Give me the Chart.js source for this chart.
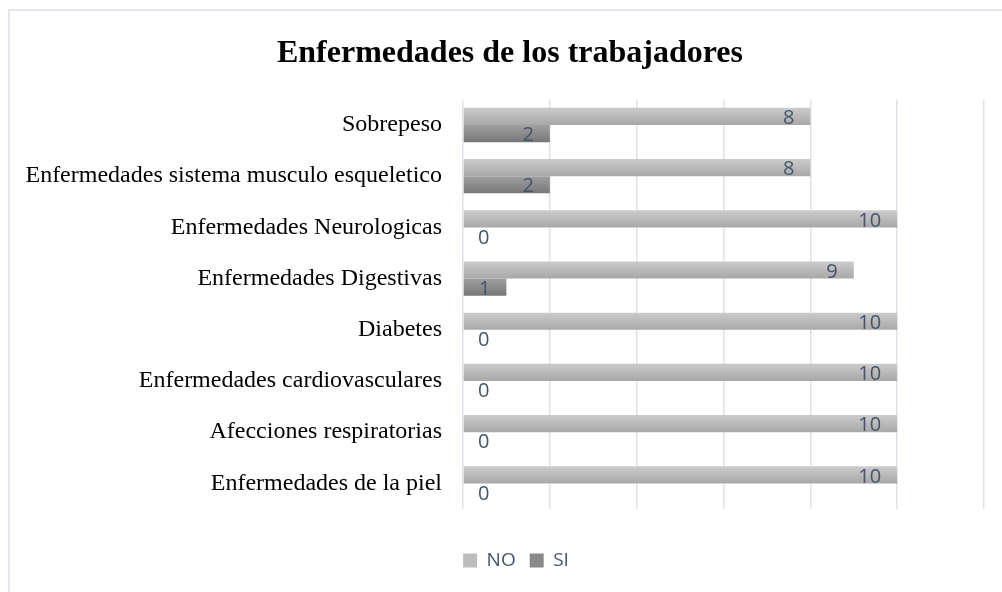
<!DOCTYPE html>
<html>
<head>
<meta charset="utf-8">
<script src="https://cdn.jsdelivr.net/npm/chart.js@4/dist/chart.umd.min.js"></script>
<style>
  html, body { margin: 0; padding: 0; background: #fff; overflow: hidden; }
  #frame { position: absolute; left: 8px; top: 9px; width: 1100px; height: 700px; border: 2px solid #e2e5eb; }
  #wrap { position: absolute; left: 0; top: 0; width: 1002px; height: 592px; }
</style>
</head>
<body>
<div id="frame"></div>
<div id="wrap"><canvas id="myChart" width="1002" height="592"></canvas></div>
<script>
var categories = [
     'Sobrepeso',
     'Enfermedades sistema musculo esqueletico',
     'Enfermedades Neurologicas',
     'Enfermedades Digestivas',
     'Diabetes',
     'Enfermedades cardiovasculares',
     'Afecciones respiratorias',
     'Enfermedades de la piel'
];
var noValues = [8, 8, 10, 9, 10, 10, 10, 10];
var siValues = [2, 2, 0, 1, 0, 0, 0, 0];
var xTicks = [0, 2, 4, 6, 8, 10, 12];

var labelColor = '#44546a';

// light-to-dark vertical shading like the original bars
function shade(top, bottom, flat, first) {
     return function (ctx) {
          var chart = ctx.chart;
          var y = chart.scales.y;
          if (!chart.chartArea || !y || ctx.dataIndex === undefined) return flat;
          var c = y.getPixelForValue(ctx.dataIndex);
          var band = Math.abs(y.getPixelForValue(1) - y.getPixelForValue(0));
          var h = band * 0.67 / 2;
          var y0 = first ? c - h : c;
          var g = chart.ctx.createLinearGradient(0, y0, 0, y0 + h);
          g.addColorStop(0, top);
          g.addColorStop(1, bottom);
          return g;
     };
}

var valueLabels = {
     id: 'valueLabels',
     afterDatasetsDraw: function (chart) {
          var ctx = chart.ctx;
          ctx.save();
          ctx.font = '20px "Open Sans"';
          ctx.fillStyle = labelColor;
          ctx.textBaseline = 'middle';
          chart.data.datasets.forEach(function (ds, i) {
               chart.getDatasetMeta(i).data.forEach(function (bar, j) {
                    var v = ds.data[j];
                    if (v === 0) {
                         ctx.textAlign = 'left';
                         ctx.fillText(v, bar.base + 15, bar.y + 2);
                    } else {
                         ctx.textAlign = 'right';
                         ctx.fillText(v, bar.x - 16, bar.y + 2);
                    }
               });
          });
          ctx.restore();
     }
};

// title and legend are centred on the whole frame, not on the canvas minus the long labels
var centreBlocks = {
     id: 'centreBlocks',
     afterLayout: function (chart) {
          if (chart.titleBlock) { chart.titleBlock.left += 8; chart.titleBlock.right += 8; }
          if (chart.legend) { chart.legend.left += 14; chart.legend.right += 14; }
     }
};

new Chart('myChart', {
     type: 'bar',
     data: {
          labels: categories,
          datasets: [{
               label: 'NO',
               data: noValues,
               backgroundColor: shade('#cbcbcb', '#a8a8a8', '#bdbdbd', true),
               categoryPercentage: 0.67,
               barPercentage: 1.0
          }, {
               label: 'SI',
               data: siValues,
               backgroundColor: shade('#a0a0a0', '#777777', '#8a8a8a', false),
               categoryPercentage: 0.67,
               barPercentage: 1.0
          }]
     },
     options: {
          indexAxis: 'y',
          responsive: false,
          animation: false,
          layout: { padding: { left: 20, right: 18, top: 0, bottom: 12 } },
          plugins: {
               title: {
                    display: true,
                    text: 'Enfermedades de los trabajadores',
                    color: '#000',
                    font: { family: '"Liberation Serif"', size: 32, weight: 'bold' },
                    padding: { top: 35, bottom: 26 }
               },
               legend: {
                    position: 'bottom',
                    labels: {
                         color: labelColor,
                         font: { family: '"Open Sans"', size: 19 },
                         boxWidth: 14,
                         boxHeight: 14,
                         padding: 14,
                         generateLabels: function (chart) {
                              var fills = ['#bdbdbd', '#8a8a8a'];
                              return chart.data.datasets.map(function (ds, i) {
                                   return { text: ds.label, fillStyle: fills[i], strokeStyle: fills[i], lineWidth: 0, datasetIndex: i, fontColor: labelColor };
                              });
                         }
                    }
               },
               tooltip: { enabled: false }
          },
          scales: {
               x: {
                    min: xTicks[0],
                    max: xTicks[xTicks.length - 1],
                    afterBuildTicks: function (axis) {
                         axis.ticks = xTicks.map(function (v) { return { value: v }; });
                    },
                    ticks: { display: false },
                    grid: { color: '#dde1e8', lineWidth: 1.5, drawTicks: false },
                    border: { display: false },
                    afterFit: function (axis) { axis.height = 28; }
               },
               y: {
                    grid: { display: false, drawTicks: false },
                    border: { display: false },
                    ticks: {
                         color: '#000',
                         padding: 21,
                         font: { family: '"Liberation Serif"', size: 24 }
                    },
                    afterFit: function (axis) { axis.width = 443; }
               }
          }
     },
     plugins: [valueLabels, centreBlocks]
});
</script>
</body>
</html>
